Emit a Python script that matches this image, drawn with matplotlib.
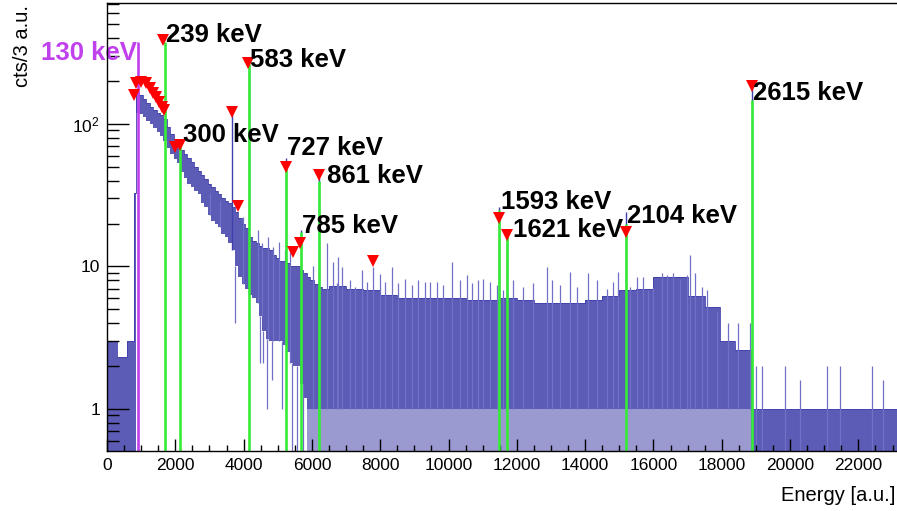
import numpy as np
import matplotlib
matplotlib.use('Agg')
import matplotlib.pyplot as plt
from matplotlib.ticker import FixedLocator, LogLocator, MultipleLocator, FuncFormatter, NullFormatter

plt.rcParams['font.family'] = ['Liberation Sans', 'DejaVu Sans']
plt.rcParams['mathtext.fontset'] = 'custom'
plt.rcParams['mathtext.rm'] = 'Liberation Sans'
plt.rcParams['mathtext.it'] = 'Liberation Sans:italic'
plt.rcParams['mathtext.bf'] = 'Liberation Sans:bold'

# ---------------- data ----------------
# dense histogram band: bin edges (a.u.), upper / lower count level of the band (0 = empty to bottom)
band_edges = [0, 300, 600, 780, 850, 950, 1050, 1150, 1250, 1350, 1450, 1550, 1650, 1750,
              1850, 1950, 2050, 2150, 2250, 2350, 2450, 2550, 2650, 2750, 2850, 2950, 3050,
              3150, 3250, 3350, 3450, 3550, 3650, 3750, 3850, 3950, 4050, 4150, 4250, 4350,
              4450, 4550, 4650, 4750, 4850, 4950, 5050, 5150, 5250, 5350, 5450, 5550, 5650,
              5750, 5850, 5950, 6050, 6200, 6300, 6500, 7000, 7500, 8000, 8500, 9000, 9500,
              10000, 10500, 11000, 11500, 12000, 12500, 13000, 13500, 14000, 14500, 15000,
              15500, 16000, 16500, 17000, 17500, 17950, 18400, 18850, 23130]
band_hi = [3, 2.3, 3, 33, 168, 160, 150, 140, 132, 126, 120, 115, 108, 95,
           85, 78, 73, 66, 62, 58, 54, 50, 47, 44, 41, 38, 36,
           34, 32, 30, 29, 28, 26, 24, 22, 20, 18.5, 16, 15, 14.5,
           14, 13.5, 13.5, 13, 12, 11.5, 11, 11, 10.5, 10, 10, 10, 9.5,
           9, 8.5, 8, 7.5, 7.2, 7, 7.3, 7, 6.8, 6.3, 6, 6,
           6, 6, 5.8, 5.8, 6, 5.8, 5.5, 5.5, 5.5, 5.8, 6.2,
           6.8, 7, 8.5, 8.5, 6.2, 5.2, 3.0, 2.6, 1.0]
band_lo = [0, 0, 0, 0, 120, 118, 112, 105, 100, 93, 88, 82, 76, 68,
           62, 57, 53, 46, 42, 38, 36, 34, 32, 28, 26, 23, 21,
           20, 19, 17, 16, 14.5, 13, 10, 8.5, 7.5, 7, 6.3, 6, 5.5,
           4.5, 3.5, 3.1, 3, 3, 3, 3, 2.8, 2.5, 2.1, 2, 2, 1.5,
           1.2, 1, 1, 1, 1, 1, 1, 1, 1, 1, 1, 1,
           1, 1, 1, 1, 1, 1, 1, 1, 1, 1, 1,
           1, 1, 1, 1, 1, 1, 1, 1, 0]
# energy range where the bins below one count are only partly occupied
sparse_range = (5850, 18850)

# single tall bins (peaks) and thin spikes above the band
peak_e = [3660, 4158, 5240, 5670, 6208, 11490, 11705, 15190, 18880]
peak_c = [118, 262, 58, 18, 42, 26, 17, 24, 175]
spike_e = [3016, 3309, 3982, 4432, 4530, 4724, 4862, 5037, 5212, 5359, 6032,
           6433, 6618, 6726, 6774, 6881, 7116, 7262, 7467, 7604, 7789, 7994, 8141,
           8346, 8531, 8726, 8922, 9107, 9312, 9458, 9654, 9848, 10102, 10337, 10542,
           10679, 10864, 11019, 11215, 11410, 11605, 11889, 12191, 12484, 12884, 13031,
           13265, 13558, 13754, 14085, 14348, 14632, 14827, 14963, 15315, 15510, 15695,
           15851, 15997, 16252, 16388, 16574, 16779, 16975, 17072, 17218, 17423, 17560,
           17853, 18184, 18487, 18829, 19004, 19171, 19854, 20293, 21075, 21464, 22393,
           22724]
spike_c = [33, 29, 22.3, 18, 14.6, 16, 13.7, 14.8, 13, 13, 10,
           14.6, 10.8, 7.6, 11.7, 9.9, 8.0, 7.2, 9.4, 7.8, 9.9, 8.9, 7.8,
           9.9, 7.6, 8.2, 7.4, 8.0, 7.8, 7.8, 7.8, 7.4, 10.8, 8.0, 8.7,
           7.6, 8.0, 8.2, 7.8, 7.4, 6.8, 8.0, 7.2, 7.6, 9.9, 8.0,
           7.4, 9.2, 7.2, 9.0, 8.0, 7.0, 7.8, 9.2, 7.2, 8.5, 8.4,
           6.8, 7.2, 9.0, 8.7, 9.0, 8.2, 8.7, 12.0, 9.0, 7.2, 6.8,
           4.9, 4.0, 4.0, 4.0, 2, 2, 2, 1.6, 2, 2, 2,
           1.6]
# dips below the band (0 = down to the bottom)
dip_e = [3750, 4480, 4570, 4676, 4822, 5115, 5408, 5554, 5749]
dip_c = [4, 2.1, 2.1, 1, 1.6, 1, 0, 0, 0]

# red peak-finder markers
mark_e = [790, 850, 995, 1142, 1259, 1347, 1435, 1523, 1611, 1669, 1640, 1991, 2138,
          3660, 3836, 4129, 5242, 5447, 5652, 6208, 7789, 11479, 11713, 15198, 18887]
mark_c = [160, 194, 196, 194, 179, 165, 155, 143, 132, 125, 388, 69, 71,
          121, 26.6, 268, 49.9, 12.6, 14.6, 43.9, 10.9, 21.9, 16.6, 17.5, 185]

# identified lines
line_e = [1698, 2137, 4158, 5240, 5670, 6208, 11490, 11705, 15190, 18880]
line_top = [376, 74, 262, 53, 17.5, 40, 25, 16.6, 20, 147]
line_labels = ['239 keV', '300 keV', '583 keV', '727 keV', '785 keV', '861 keV',
               '1593 keV', '1621 keV', '2104 keV', '2615 keV']
label_e = [1728, 2217, 4187, 5271, 5710, 6442, 11537, 11889, 15227, 18916]
label_c = [376, 74.6, 250, 60.6, 17.2, 38.6, 25.2, 16.1, 20.2, 147]

# reference line (130 keV)
ref_e = 922
ref_top = 376
ref_label = '130 keV'
ref_label_e = 878
ref_label_c = 281

x_ticks = list(range(0, 22001, 2000))
y_major = [1, 10, 100]
y_major_labels = {1: '1', 10: '10', 100: r'$10^{2}$'}

# ---------------- drawing ----------------
XMIN, XMAX = 0, 23130
YMIN, YMAX = 0.507, 706

fig = plt.figure(figsize=(8.97, 5.11), dpi=100)
ax = fig.add_axes([107/897, 60/511, 790/897, 448/511])
ax.set_yscale('log')
ax.set_xlim(XMIN, XMAX)
ax.set_ylim(YMIN, YMAX)

floor = YMIN * 0.5
edges = np.array(band_edges, dtype=float)
hi = np.array(band_hi, dtype=float)
lo = np.array(band_lo, dtype=float)
lo_d = np.where(lo <= 0, floor, lo)
hi_ext = np.append(hi, hi[-1])
lo_ext = np.append(lo_d, lo_d[-1])

fill_col = '#5c5cb6'
line_col = '#4040ae'
spike_col = '#7070c6'

ax.fill_between(edges, lo_ext, hi_ext, step='post', color=fill_col, lw=0, zorder=1)
ax.step(edges, hi_ext, where='post', color=line_col, lw=0.6, zorder=1.2)

# partly occupied region below one count
s0, s1 = sparse_range
ax.fill_between([s0, s1], [floor, floor], [1, 1], color=fill_col, alpha=0.62, lw=0, zorder=1)

def band_level(e, arr):
    i = np.searchsorted(edges, e, side='right') - 1
    i = np.clip(i, 0, len(arr) - 1)
    return arr[i]

# spikes above band
for e, c in zip(spike_e, spike_c):
    ax.vlines(e, band_level(e, lo_d), c, color=spike_col, lw=0.9, zorder=1.3)
# dips below band
for e, c in zip(dip_e, dip_c):
    ax.vlines(e, c if c > 0 else floor, band_level(e, lo_d), color=spike_col, lw=0.9, zorder=1.3)
# single-bin peaks
for e, c in zip(peak_e, peak_c):
    ax.vlines(e, band_level(e, lo_d), c, color=line_col, lw=1.0, zorder=1.4)

# green lines
green = '#36ec36'
for e, t in zip(line_e, line_top):
    ax.vlines(e, floor, t, color=green, lw=1.9, zorder=3)
# magenta reference line
mag = '#c040ee'
ax.vlines(ref_e, floor, ref_top, color=mag, lw=1.9, zorder=3)

# markers
ax.plot(mark_e, mark_c, linestyle='none', marker='v', color='#ff0000',
        markersize=9, markeredgewidth=0, zorder=4)

# labels
for txt, e, c in zip(line_labels, label_e, label_c):
    ax.text(e, c, txt, fontsize=18.5, fontweight='bold', color='black',
            ha='left', va='baseline', zorder=5)
ax.text(ref_label_e, ref_label_c, ref_label, fontsize=18.5, fontweight='bold', color=mag,
        ha='right', va='baseline', zorder=5)

# axes styling
ax.spines['right'].set_visible(False)
for s in ['left', 'bottom', 'top']:
    ax.spines[s].set_linewidth(1.0)
    ax.spines[s].set_zorder(6)

ax.xaxis.set_major_locator(FixedLocator(x_ticks))
ax.xaxis.set_minor_locator(MultipleLocator(500))
ax.yaxis.set_major_locator(FixedLocator(y_major))
ax.yaxis.set_minor_locator(LogLocator(base=10, subs=np.arange(2, 10)))
ax.yaxis.set_minor_formatter(NullFormatter())
ax.yaxis.set_major_formatter(FuncFormatter(lambda v, p: y_major_labels.get(int(round(v)), '')))

ax.tick_params(axis='both', which='both', direction='in', top=False, right=False,
               labelsize=12.5, width=1.0, zorder=6)
ax.tick_params(axis='y', which='major', length=15.8, pad=5)
ax.tick_params(axis='y', which='minor', length=8.6)
ax.tick_params(axis='x', which='major', length=8.6, pad=5)
ax.tick_params(axis='x', which='minor', length=4.3)

fig.text(22/897, 1 - 5/511, 'cts/3 a.u.', rotation=90, ha='center', va='top', fontsize=14.5)
fig.text(895/897, 1 - 495/511, 'Energy [a.u.]', ha='right', va='center', fontsize=14.5)

fig.savefig('out.png', dpi=100)
